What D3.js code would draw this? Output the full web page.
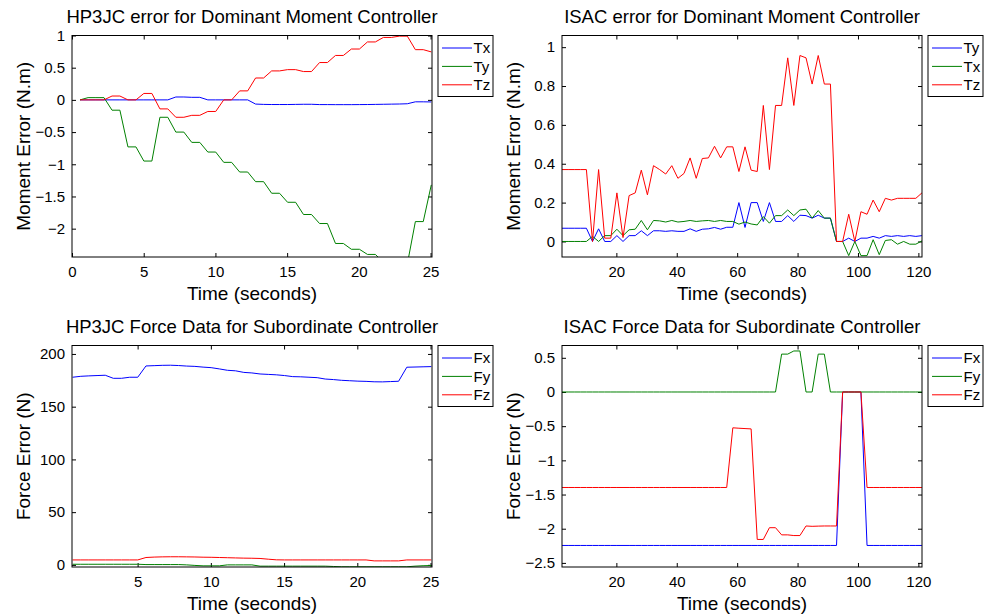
<!DOCTYPE html>
<html>
<head>
<meta charset="utf-8">
<script src="https://cdn.jsdelivr.net/npm/d3@7"></script>
<style>
  html, body { margin: 0; padding: 0; background: #fff; }
  svg { display: block; }
  text { font-family: "Liberation Sans", Arial, Helvetica, sans-serif; fill: #000; }
</style>
</head>
<body>
<svg id="chart" width="990" height="615"></svg>
<script>
// ---------------- DATA ----------------
// HP3JC time samples (seconds)
const tHP = [0.56, 1.12, 1.67, 2.23, 2.79, 3.34, 3.90, 4.46, 5.01, 5.57, 6.13, 6.68, 7.24, 7.80, 8.35,
  8.91, 9.47, 10.02, 10.58, 11.13, 11.69, 12.25, 12.80, 13.36, 13.92, 14.47, 15.03, 15.59, 16.14, 16.70,
  17.26, 17.81, 18.37, 18.92, 19.48, 20.04, 20.60, 21.15, 21.71, 22.27, 22.82, 23.38, 23.94, 24.49, 25.05];
// ISAC time samples (seconds)
const tISAC = [2.00, 4.02, 6.04, 8.06, 10.08, 12.10, 14.12, 16.14, 18.16, 20.18, 22.20, 24.22, 26.24, 28.26,
  30.28, 32.30, 34.32, 36.34, 38.36, 40.38, 42.40, 44.42, 46.44, 48.46, 50.48, 52.50, 54.52, 56.54, 58.56,
  60.58, 62.60, 64.62, 66.64, 68.66, 70.68, 72.70, 74.72, 76.74, 78.76, 80.78, 82.80, 84.82, 86.84, 88.86,
  90.88, 92.90, 94.92, 96.94, 98.96, 100.98, 103.00, 105.02, 107.04, 109.06, 111.08, 113.10, 115.12,
  117.14, 119.16, 121.18];

// Panel 1: HP3JC moment error
const hpTx = [0, 0, 0, 0, 0, 0, 0, 0, 0, 0, 0, 0, 0.045, 0.045, 0.04, 0.04, 0, 0, 0, 0, 0, 0,
  -0.065, -0.07, -0.072, -0.072, -0.072, -0.07, -0.068, -0.068, -0.073, -0.073, -0.074, -0.074, -0.074,
  -0.073, -0.072, -0.07, -0.068, -0.066, -0.064, -0.06, -0.03, -0.03, -0.032];
const hpTy = [0, 0.035, 0.035, 0.035, -0.16, -0.16, -0.73, -0.73, -0.95, -0.95, -0.27, -0.27, -0.5, -0.5,
  -0.66, -0.66, -0.81, -0.81, -0.97, -0.97, -1.12, -1.12, -1.27, -1.27, -1.45, -1.45, -1.59, -1.59,
  -1.78, -1.78, -1.92, -1.92, -2.23, -2.23, -2.32, -2.32, -2.4, -2.4, -2.52, -2.55, -2.6, -2.55,
  -1.89, -1.89, -1.32];
const hpTz = [0, 0, 0, 0, 0.06, 0.06, 0, 0, 0.1, 0.1, -0.14, -0.14, -0.27, -0.27, -0.24, -0.24, -0.18, -0.18,
  0, 0, 0.14, 0.14, 0.34, 0.34, 0.45, 0.45, 0.47, 0.47, 0.44, 0.44, 0.58, 0.58, 0.69, 0.69, 0.79, 0.79,
  0.9, 0.9, 0.97, 0.97, 0.99, 0.99, 0.78, 0.78, 0.745];

// Panel 2: ISAC moment error
const isTy = [0.068, 0.068, 0.068, 0.068, 0.068, 0, 0.065, 0, 0, 0.03, 0, 0.03, 0.03, 0.055, 0.03, 0.055,
  0.055, 0.052, 0.055, 0.052, 0.052, 0.065, 0.052, 0.063, 0.065, 0.072, 0.063, 0.073, 0.073, 0.2, 0.072,
  0.2, 0.2, 0.103, 0.2, 0.103, 0.103, 0.133, 0.103, 0.135, 0.133, 0.12, 0.135, 0.12, 0.12, 0, 0, 0.017,
  0, 0.017, 0.017, 0.026, 0.017, 0.03, 0.026, 0.03, 0.026, 0.03, 0.026, 0.03];
const isTx = [0, 0, 0, 0, 0, 0.026, 0, 0.03, 0.03, 0.063, 0.03, 0.06, 0.063, 0.108, 0.06, 0.108, 0.106,
  0.1, 0.108, 0.1, 0.103, 0.108, 0.103, 0.106, 0.108, 0.103, 0.108, 0.103, 0.103, 0.089, 0.1, 0.09,
  0.085, 0.128, 0.094, 0.133, 0.133, 0.162, 0.133, 0.162, 0.166, 0.12, 0.159, 0.12, 0.12, 0, 0, -0.073,
  0, -0.073, -0.073, 0.009, -0.068, 0.005, 0.009, -0.014, 0, -0.014, -0.014, 0.003];
const isTz = [0.37, 0.37, 0.37, 0.37, 0.37, 0.0, 0.37, 0.017, 0.017, 0.25, 0.02, 0.236, 0.25, 0.367, 0.24,
  0.39, 0.37, 0.347, 0.39, 0.325, 0.35, 0.43, 0.325, 0.427, 0.43, 0.49, 0.43, 0.487, 0.487, 0.36, 0.487,
  0.367, 0.36, 0.70, 0.37, 0.70, 0.70, 0.945, 0.70, 0.957, 0.945, 0.81, 0.957, 0.81, 0.81, 0, 0, 0.14, 0,
  0.153, 0.14, 0.213, 0.153, 0.222, 0.213, 0.222, 0.222, 0.222, 0.222, 0.25];

// Panel 3: HP3JC force data
const hpFx = [177.9, 178.8, 179.2, 179.5, 179.8, 176.9, 176.9, 177.9, 177.9, 188.6, 188.9, 189.2, 189.3, 189.0,
  188.5, 188.2, 187.5, 187.0, 185.8, 184.5, 184.0, 182.5, 182.0, 181.0, 180.6, 180.2, 179.5, 178.5, 178.3,
  177.9, 177.5, 176.2, 175.7, 175.0, 174.6, 174.2, 174.0, 173.6, 173.5, 173.8, 174.1, 187.4, 187.6, 187.8, 188.0];
const hpFy = [0.6, 0.6, 0.6, 0.6, 0.6, 0.6, 0.6, 0.6, 0.6, 0.3, 0.3, 0.3, 0.3, 0.3, 0, -0.5, -0.9, -0.9, -0.9,
  0, 0, 0, 0, -1.2, -1.2, -1.2, -1.2, -1.2, -1.2, -1.2, -1.2, -1.2, -1.5, -1.8, -1.8, -1.8, -1.8, -1.8, -1.8,
  -1.8, -1.8, -1.8, -1.2, -0.8, -0.6];
const hpFz = [4.7, 4.7, 4.7, 4.7, 4.7, 4.7, 4.7, 4.7, 4.7, 7.0, 7.4, 7.6, 7.7, 7.7, 7.6, 7.5, 7.3, 7.2, 7.0,
  6.8, 6.6, 6.4, 6.3, 6.1, 5.4, 4.8, 4.7, 4.7, 4.7, 4.7, 4.7, 4.7, 4.7, 4.7, 4.7, 4.7, 4.7, 3.8, 3.8, 3.8,
  3.8, 4.7, 4.7, 4.7, 4.7];

// Panel 4: ISAC force data
const isFx = [-2.245, -2.245, -2.245, -2.245, -2.245, -2.245, -2.245, -2.245, -2.245, -2.245, -2.245, -2.245,
  -2.245, -2.245, -2.245, -2.245, -2.245, -2.245, -2.245, -2.245, -2.245, -2.245, -2.245, -2.245, -2.245,
  -2.245, -2.245, -2.245, -2.245, -2.245, -2.245, -2.245, -2.245, -2.245, -2.245, -2.245, -2.245, -2.245,
  -2.245, -2.245, -2.245, -2.245, -2.245, -2.245, -2.245, -2.245, 0, 0, 0, 0, -2.245, -2.245, -2.245,
  -2.245, -2.245, -2.245, -2.245, -2.245, -2.245, -2.245];
const isFy = [0, 0, 0, 0, 0, 0, 0, 0, 0, 0, 0, 0, 0, 0, 0, 0, 0, 0, 0, 0, 0, 0, 0, 0, 0, 0, 0, 0, 0, 0, 0, 0,
  0, 0, 0, 0, 0.554, 0.554, 0.6, 0.6, 0, 0, 0.554, 0.554, 0, 0, 0, 0, 0, 0, 0, 0, 0, 0, 0, 0, 0, 0, 0, 0];
const isFz = [-1.397, -1.397, -1.397, -1.397, -1.397, -1.397, -1.397, -1.397, -1.397, -1.397, -1.397, -1.397,
  -1.397, -1.397, -1.397, -1.397, -1.397, -1.397, -1.397, -1.397, -1.397, -1.397, -1.397, -1.397, -1.397,
  -1.397, -1.397, -1.397, -0.524, -0.53, -0.535, -0.54, -2.157, -2.157, -1.985, -1.985, -2.09, -2.09, -2.1,
  -2.1, -1.96, -1.965, -1.962, -1.96, -1.96, -1.96, 0, 0, 0, 0, -1.397, -1.397, -1.397, -1.397, -1.397,
  -1.397, -1.397, -1.397, -1.397, -1.397];

// Tick values
const p1XTicks = [0, 5, 10, 15, 20, 25];
const p1YTicks = [-2, -1.5, -1, -0.5, 0, 0.5, 1];
const p2XTicks = [20, 40, 60, 80, 100, 120];
const p2YTicks = [0, 0.2, 0.4, 0.6, 0.8, 1];
const p3XTicks = [5, 10, 15, 20, 25];
const p3YTicks = [0, 50, 100, 150, 200];
const p4XTicks = [20, 40, 60, 80, 100, 120];
const p4YTicks = [-2.5, -2, -1.5, -1, -0.5, 0, 0.5];

const COLORS = { blue: "#0000ff", green: "#008000", red: "#ff0000" };

// ---------------- PANELS ----------------
const panels = [
  { title: "HP3JC error for Dominant Moment Controller", ylabel: "Moment Error (N.m)",
    box: { l: 72, r: 432, t: 35.5, b: 257 }, xDom: [0, 25.1], yDom: [-2.44, 1.06 - 0.06],
    xTicks: p1XTicks, yTicks: p1YTicks, t: tHP,
    series: [{ name: "Tx", v: hpTx, c: COLORS.blue }, { name: "Ty", v: hpTy, c: COLORS.green }, { name: "Tz", v: hpTz, c: COLORS.red }] },
  { title: "ISAC error for Dominant Moment Controller", ylabel: "Moment Error (N.m)",
    box: { l: 562, r: 922, t: 35.5, b: 257 }, xDom: [2, 121.2], yDom: [-0.08, 1.06],
    xTicks: p2XTicks, yTicks: p2YTicks, t: tISAC,
    series: [{ name: "Ty", v: isTy, c: COLORS.blue }, { name: "Tx", v: isTx, c: COLORS.green }, { name: "Tz", v: isTz, c: COLORS.red }] },
  { title: "HP3JC Force Data for Subordinate Controller", ylabel: "Force Error (N)",
    box: { l: 72, r: 432, t: 345.5, b: 567 }, xDom: [0.52, 25.1], yDom: [-2, 208],
    xTicks: p3XTicks, yTicks: p3YTicks, t: tHP,
    series: [{ name: "Fx", v: hpFx, c: COLORS.blue }, { name: "Fy", v: hpFy, c: COLORS.green }, { name: "Fz", v: hpFz, c: COLORS.red }] },
  { title: "ISAC Force Data for Subordinate Controller", ylabel: "Force Error (N)",
    box: { l: 562, r: 922, t: 345.5, b: 567 }, xDom: [2, 121.2], yDom: [-2.56, 0.68],
    xTicks: p4XTicks, yTicks: p4YTicks, t: tISAC,
    series: [{ name: "Fx", v: isFx, c: COLORS.blue }, { name: "Fy", v: isFy, c: COLORS.green }, { name: "Fz", v: isFz, c: COLORS.red }] }
];

const svg = d3.select("#chart");
const fmt = d => String(+d.toFixed(3)).replace("-", "\u2212");

panels.forEach((p, pi) => {
  const B = p.box;
  const x = d3.scaleLinear().domain(p.xDom).range([B.l, B.r]);
  const y = d3.scaleLinear().domain(p.yDom).range([B.b, B.t]);
  const g = svg.append("g");

  const clipId = "clip" + pi;
  svg.append("clipPath").attr("id", clipId).append("rect")
    .attr("x", B.l).attr("y", B.t).attr("width", B.r - B.l).attr("height", B.b - B.t);

  // Axes (inward ticks, mirrored)
  const styleAxis = sel => {
    sel.select(".domain").remove();
    sel.selectAll("line").attr("stroke", "#000").attr("stroke-width", 1);
    sel.selectAll("text").style("font-size", "15px").attr("fill", "#000");
  };
  g.append("g").attr("transform", `translate(0,${B.b})`)
    .call(d3.axisBottom(x).tickValues(p.xTicks).tickFormat(fmt).tickSizeInner(-4).tickSizeOuter(0).tickPadding(9))
    .call(styleAxis);
  g.append("g").attr("transform", `translate(0,${B.t})`)
    .call(d3.axisTop(x).tickValues(p.xTicks).tickFormat("").tickSizeInner(-4).tickSizeOuter(0))
    .call(styleAxis);
  g.append("g").attr("transform", `translate(${B.l},0)`)
    .call(d3.axisLeft(y).tickValues(p.yTicks).tickFormat(fmt).tickSizeInner(-4).tickSizeOuter(0).tickPadding(7))
    .call(styleAxis);
  g.append("g").attr("transform", `translate(${B.r},0)`)
    .call(d3.axisRight(y).tickValues(p.yTicks).tickFormat("").tickSizeInner(-4).tickSizeOuter(0))
    .call(styleAxis);

  // Lines
  const line = d3.line().x((d, i) => x(p.t[i])).y(d => y(d));
  const lg = g.append("g").attr("clip-path", `url(#${clipId})`);
  p.series.forEach(s => {
    lg.append("path").datum(s.v).attr("d", line)
      .attr("fill", "none").attr("stroke", s.c).attr("stroke-width", 1)
      .attr("stroke-linejoin", "round");
  });

  // Frame
  g.append("rect").attr("x", B.l).attr("y", B.t).attr("width", B.r - B.l).attr("height", B.b - B.t)
    .attr("fill", "none").attr("stroke", "#000").attr("stroke-width", 1);

  // Title
  g.append("text").attr("x", (B.l + B.r) / 2).attr("y", B.t - 13)
    .attr("text-anchor", "middle").style("font-size", "18.5px").text(p.title);
  // X label
  g.append("text").attr("x", (B.l + B.r) / 2).attr("y", B.b + 42.5)
    .attr("text-anchor", "middle").style("font-size", "19px").text("Time (seconds)");
  // Y label
  g.append("text").attr("transform", `translate(${B.l - 42},${(B.t + B.b) / 2}) rotate(-90)`)
    .attr("text-anchor", "middle").style("font-size", "19px").text(p.ylabel);

  // Legend
  const L = { x: B.r + 6, y: B.t, w: 55, h: 61 };
  const leg = g.append("g");
  leg.append("rect").attr("x", L.x).attr("y", L.y).attr("width", L.w).attr("height", L.h)
    .attr("fill", "#fff").attr("stroke", "#000").attr("stroke-width", 1);
  p.series.forEach((s, i) => {
    const yy = L.y + 12.5 + i * 18.4;
    leg.append("line").attr("x1", L.x + 4).attr("x2", L.x + 34).attr("y1", yy).attr("y2", yy)
      .attr("stroke", s.c).attr("stroke-width", 1);
    leg.append("text").attr("x", L.x + 35.5).attr("y", yy).attr("dy", "0.36em")
      .style("font-size", "15px").text(s.name);
  });
});
</script>
</body>
</html>
